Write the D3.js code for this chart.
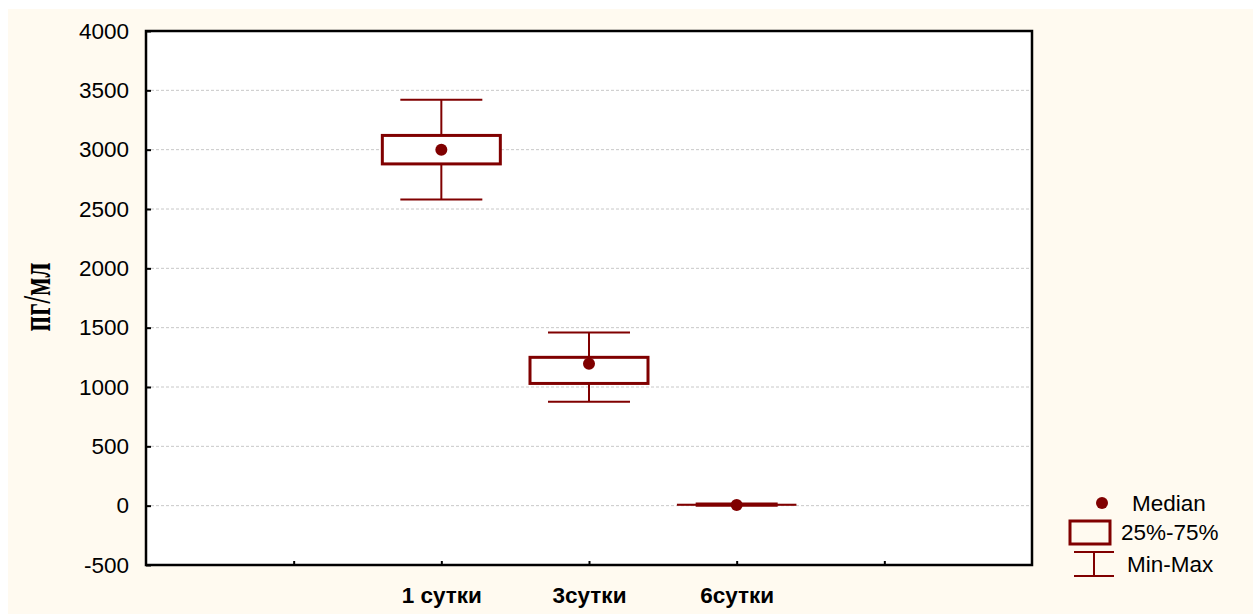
<!DOCTYPE html>
<html>
<head>
<meta charset="utf-8">
<script src="https://cdn.jsdelivr.net/npm/d3@7"></script>
<style>
  body { margin: 0; background: #fff; }
  svg { display: block; }
</style>
</head>
<body>
<div id="chart"></div>
<script>
// category slots along x: 1..5, only 2..4 carry boxes / labels
const categories = ['1 сутки', '3сутки', '6сутки'];
const catPos = [2, 3, 4];
const slotTicks = [1, 2, 3, 4, 5];

const minVals    = [2580, 875, 0];
const q1Vals     = [2880, 1030, 5];
const medianVals = [3000, 1195, 5];
const q3Vals     = [3120, 1250, 10];
const maxVals    = [3420, 1460, 18];

const yTicks = [-500, 0, 500, 1000, 1500, 2000, 2500, 3000, 3500, 4000];

const W = 1253, H = 614;
const margin = {left: 146, top: 31, right: 221, bottom: 49};
const red = '#800000';
const sans = 'Liberation Sans, Arial, sans-serif';

const svg = d3.select('#chart').append('svg')
  .attr('width', W)
  .attr('height', H);

svg.append('rect')
  .attr('x', 8).attr('y', 9)
  .attr('width', W - 8).attr('height', H - 9)
  .attr('fill', '#fffaf0');

const x = d3.scaleLinear().domain([0, 6]).range([margin.left, W - margin.right]);
const y = d3.scaleLinear().domain([-500, 4000]).range([H - margin.bottom, margin.top]);

svg.append('rect')
  .attr('x', x(0)).attr('y', y(4000))
  .attr('width', x(6) - x(0)).attr('height', y(-500) - y(4000))
  .attr('fill', '#fff');

// grid
svg.append('g')
  .selectAll('line')
  .data(yTicks.filter(d => d > -500 && d < 4000))
  .join('line')
  .attr('x1', x(0)).attr('x2', x(6))
  .attr('y1', d => y(d)).attr('y2', d => y(d))
  .attr('stroke', '#c8c8c8')
  .attr('stroke-width', 1)
  .attr('stroke-dasharray', '3,2');

// y axis
const yAxis = d3.axisLeft(y).tickValues(yTicks).tickSize(-5).tickPadding(17).tickFormat(d => String(d));
const gy = svg.append('g')
  .attr('transform', `translate(${x(0)},0)`)
  .call(yAxis);
gy.select('.domain').remove();
gy.selectAll('.tick line').attr('stroke', '#000').attr('stroke-width', 2);
gy.selectAll('.tick text')
  .attr('font-family', sans)
  .attr('font-size', 22.5)
  .attr('fill', '#000');

// x axis
const xAxis = d3.axisBottom(x).tickValues(slotTicks).tickSize(-4).tickPadding(22)
  .tickFormat(d => { const i = catPos.indexOf(d); return i < 0 ? '' : categories[i]; });
const gx = svg.append('g')
  .attr('transform', `translate(0,${y(-500)})`)
  .call(xAxis);
gx.select('.domain').remove();
gx.selectAll('.tick line').attr('stroke', '#000').attr('stroke-width', 2);
gx.selectAll('.tick text')
  .attr('font-family', sans)
  .attr('font-size', 22.5)
  .attr('font-weight', 'bold')
  .attr('fill', '#000');

// frame
svg.append('rect')
  .attr('x', x(0)).attr('y', y(4000))
  .attr('width', x(6) - x(0)).attr('height', y(-500) - y(4000))
  .attr('fill', 'none')
  .attr('stroke', '#000')
  .attr('stroke-width', 2.5);

// y title
svg.append('text')
  .attr('transform', 'translate(50,297) rotate(-90) scale(1,1.45)')
  .attr('text-anchor', 'middle')
  .attr('font-family', 'Liberation Serif, Times New Roman, serif')
  .attr('font-weight', 'bold')
  .attr('font-size', 27)
  .attr('fill', '#000')
  .text('пг/мл');

// boxes
const boxHalf = 59, capHalf = 41;
const boxes = svg.append('g')
  .selectAll('g')
  .data(categories.map((c, i) => ({
    pos: catPos[i], min: minVals[i], q1: q1Vals[i], med: medianVals[i], q3: q3Vals[i], max: maxVals[i]
  })))
  .join('g');

boxes.append('line')
  .attr('x1', d => x(d.pos)).attr('x2', d => x(d.pos))
  .attr('y1', d => y(d.max)).attr('y2', d => y(d.min))
  .attr('stroke', red).attr('stroke-width', 2);

boxes.append('rect')
  .attr('x', d => x(d.pos) - boxHalf)
  .attr('y', d => y(d.q3))
  .attr('width', boxHalf * 2)
  .attr('height', d => y(d.q1) - y(d.q3))
  .attr('fill', '#fff')
  .attr('stroke', red)
  .attr('stroke-width', d => (y(d.q1) - y(d.q3)) < 3 ? 1.5 : 3);

boxes.selectAll('line.cap')
  .data(d => [{pos: d.pos, v: d.max}, {pos: d.pos, v: d.min}])
  .join('line')
  .attr('class', 'cap')
  .attr('x1', d => x(d.pos) - capHalf).attr('x2', d => x(d.pos) + capHalf)
  .attr('y1', d => y(d.v)).attr('y2', d => y(d.v))
  .attr('stroke', red).attr('stroke-width', 2);

boxes.append('circle')
  .attr('cx', d => x(d.pos))
  .attr('cy', d => y(d.med))
  .attr('r', 6)
  .attr('fill', red);

// legend
const lg = svg.append('g')
  .attr('font-family', sans)
  .attr('font-size', 22.5)
  .attr('fill', '#000');

lg.append('circle').attr('cx', 1102).attr('cy', 503).attr('r', 6).attr('fill', red);
lg.append('text').attr('x', 1132).attr('y', 511).text('Median');

lg.append('rect').attr('x', 1070).attr('y', 521).attr('width', 40).attr('height', 23)
  .attr('fill', 'none').attr('stroke', red).attr('stroke-width', 3);
lg.append('text').attr('x', 1121).attr('y', 540).text('25%-75%');

lg.append('line').attr('x1', 1074).attr('x2', 1114).attr('y1', 552).attr('y2', 552)
  .attr('stroke', red).attr('stroke-width', 2);
lg.append('line').attr('x1', 1074).attr('x2', 1114).attr('y1', 576).attr('y2', 576)
  .attr('stroke', red).attr('stroke-width', 2);
lg.append('line').attr('x1', 1094).attr('x2', 1094).attr('y1', 552).attr('y2', 576)
  .attr('stroke', red).attr('stroke-width', 2);
lg.append('text').attr('x', 1127).attr('y', 572).text('Min-Max');
</script>
</body>
</html>
